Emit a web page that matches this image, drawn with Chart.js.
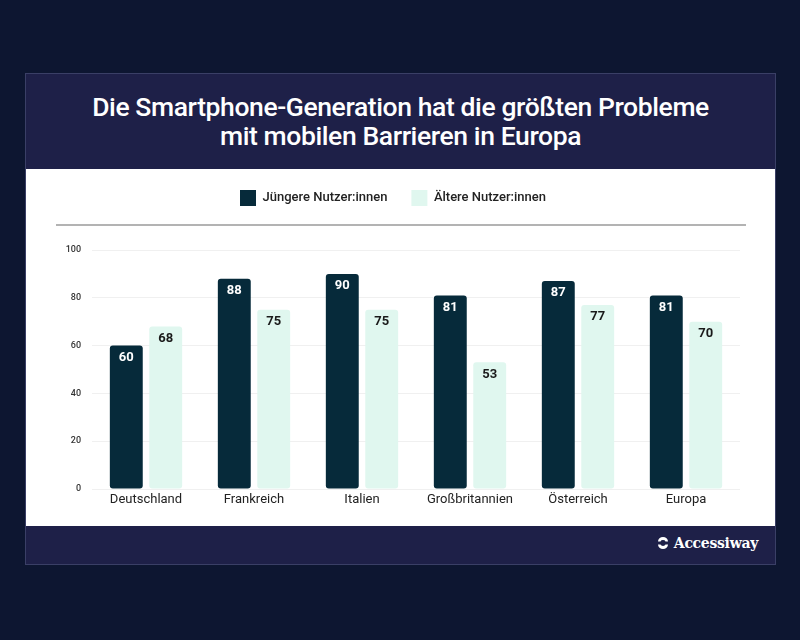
<!DOCTYPE html>
<html>
<head>
<meta charset="utf-8">
<script src="https://cdn.jsdelivr.net/npm/chart.js@4"></script>
<style>
  html, body { margin: 0; padding: 0; }
  body { width: 800px; height: 640px; background: #0d1631; position: relative; overflow: hidden; font-family: Roboto, sans-serif; }
  #card { position: absolute; left: 25px; top: 73px; width: 751px; height: 492px; background: #fff; border: 1px solid #3a3f66; box-sizing: border-box; }
  #head { position: absolute; left: 0; top: 0; width: 100%; height: 95px; background: #1e2048; color: #fff; text-align: center; font-weight: 500; font-size: 26.5px; line-height: 29px; padding-top: 18px; box-sizing: border-box; letter-spacing: -0.4px; }
  #foot { position: absolute; left: 0; bottom: 0; width: 100%; height: 38px; background: #1e2048; }
  #logo { position: absolute; right: 17px; top: 9px; color: #fff; font-family: "DejaVu Serif", serif; font-weight: bold; font-size: 14px; display: flex; align-items: center; gap: 4px; letter-spacing: -0.3px; }
  #wrap { position: absolute; left: 0; top: 95px; width: 751px; height: 359px; }
</style>
</head>
<body>
<div id="card">
  <div id="head">Die Smartphone-Generation hat die größten Probleme<br>mit mobilen Barrieren in Europa</div>
  <div id="wrap"><canvas id="chart" width="751" height="359"></canvas></div>
  <div id="foot">
    <div id="logo">
      <svg width="14" height="14" viewBox="0 0 14 14"><path d="M2 5.5 A5 4.5 0 0 1 12 5.5 L9.5 5.5 A2.6 2 0 0 0 4.5 5.5 Z" fill="#fff"/><path d="M2 8.5 A5 4.5 0 0 0 12 8.5 L9.5 8.5 A2.6 2 0 0 1 4.5 8.5 Z" fill="#fff"/></svg>
      <span>Accessiway</span>
    </div>
  </div>
</div>
<script>
var categories = ['Deutschland', 'Frankreich', 'Italien', 'Großbritannien', 'Österreich', 'Europa'];
var younger = [60, 88, 90, 81, 87, 81];
var older = [68, 75, 75, 53, 77, 70];
var yTicks = [0, 20, 40, 60, 80, 100];

// zahlen oben in den balken
var barLabels = {
    id: 'barLabels',
    afterDatasetsDraw: function (chart) {
        var ctx = chart.ctx;
        ctx.save();
        ctx.font = 'bold 13px Roboto';
        ctx.textAlign = 'center';
        ctx.textBaseline = 'middle';
        chart.data.datasets.forEach(function (ds, i) {
            chart.getDatasetMeta(i).data.forEach(function (bar, j) {
                ctx.fillStyle = i === 0 ? '#ffffff' : '#1a1a1a';
                ctx.fillText(ds.data[j], bar.x, bar.y + 12);
            });
        });
        ctx.restore();
    }
};

// linie unter der legende
var legendLine = {
    id: 'legendLine',
    afterDraw: function (chart) {
        var ctx = chart.ctx;
        ctx.save();
        ctx.strokeStyle = '#9a9a9a';
        ctx.lineWidth = 1.5;
        ctx.beginPath();
        ctx.moveTo(30, 56);
        ctx.lineTo(720, 56);
        ctx.stroke();
        ctx.restore();
    }
};

// mehr platz unter der legende
var legendSpace = {
    id: 'legendSpace',
    beforeInit: function (chart) {
        var fit = chart.legend.fit;
        chart.legend.fit = function () {
            fit.bind(chart.legend)();
            this.height += 34;
        };
    }
};

var ctx = document.getElementById('chart').getContext('2d');
var myChart = new Chart(ctx, {
    type: 'bar',
    data: {
        labels: categories,
        datasets: [
            { label: 'Jüngere Nutzer:innen', data: younger, backgroundColor: '#062a3a', borderRadius: 3, borderSkipped: false },
            { label: 'Ältere Nutzer:innen', data: older, backgroundColor: '#e0f7ef', borderRadius: 3, borderSkipped: false }
        ]
    },
    options: {
        responsive: false,
        animation: false,
        categoryPercentage: 0.73,
        barPercentage: 0.835,
        layout: { padding: { left: 20, right: 37, top: -3, bottom: 17 } },
        plugins: {
            legend: {
                position: 'top',
                labels: {
                    boxWidth: 16, boxHeight: 16, padding: 24,
                    color: '#222', font: { family: 'Roboto', size: 13, weight: '500' }
                }
            },
            tooltip: { enabled: false }
        },
        scales: {
            x: {
                afterFit: function (scale) { scale.height = 22; },
                grid: { display: false },
                border: { display: false },
                ticks: { color: '#222', font: { family: 'Roboto', size: 13 }, padding: -5 }
            },
            y: {
                min: 0, max: 100,
                afterFit: function (scale) { scale.width = 46; },
                afterBuildTicks: function (scale) { scale.ticks = yTicks.map(function (v) { return { value: v }; }); },
                grid: { color: '#f0f0f0', drawTicks: false },
                border: { display: false },
                ticks: { color: '#333', font: { family: 'Roboto', size: 9, weight: '500' }, padding: 11 }
            }
        }
    },
    plugins: [barLabels, legendLine, legendSpace]
});
</script>
</body>
</html>
